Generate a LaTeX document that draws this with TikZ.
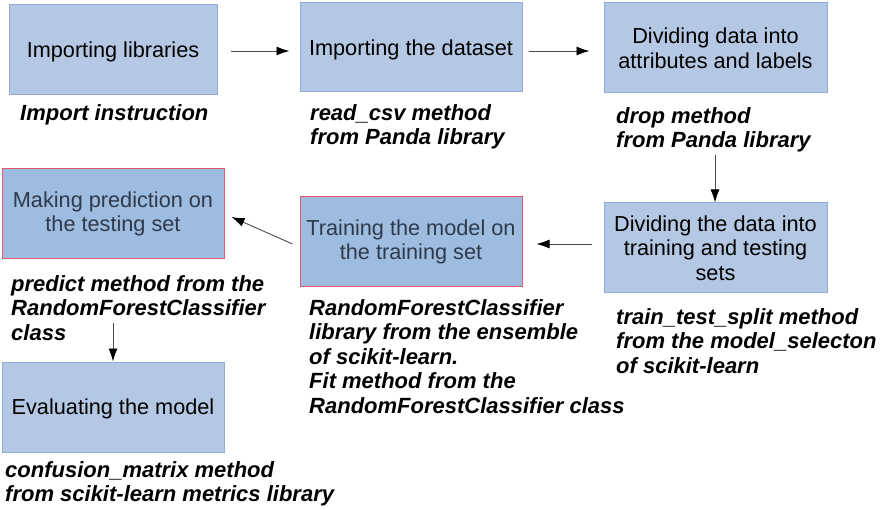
\documentclass[tikz,border=0pt]{standalone}
\usepackage{fontspec}
\setmainfont{Liberation Sans}
\usetikzlibrary{arrows.meta,calc}
\definecolor{boxfill}{HTML}{B4C8E4}
\definecolor{boxline}{HTML}{8FADD6}
\definecolor{hotfill}{HTML}{9EBCDF}
\definecolor{hotline}{HTML}{E05A6C}
\definecolor{hottext}{HTML}{2E3A4C}
\definecolor{arrowcol}{HTML}{4A4A4A}
\begin{document}
\begin{tikzpicture}[x=1pt,y=-1pt,
  boxtext/.style={inner sep=0pt,align=center,
    font=\fontsize{21.7}{24.5}\selectfont},
  onetext/.style={boxtext,yshift=-2pt},
  stepbox/.style={draw=boxline,fill=boxfill,line width=1pt,inner sep=0pt,
    minimum width=222pt,minimum height=90pt},
  hotbox/.style={stepbox,draw=hotline,fill=hotfill},
  hottxt/.style={boxtext,text=hottext},
  note/.style={anchor=north west,inner sep=0pt,align=left,
    font=\fontsize{22}{24.5}\selectfont\bfseries\itshape},
  flow/.style={draw=arrowcol,line width=0.9pt,-{Latex[length=13pt,width=9pt,color=black]}}]
\useasboundingbox (0,0) rectangle (880,510);
\fill[white] (0,0) rectangle (880,510);

\node[stepbox,minimum width=208pt,label={[onetext]center:Importing libraries}] (b1) at (113,50) {};
\node[stepbox,minimum height=89pt,label={[onetext]center:Importing the dataset}] (b2) at (411,47.5) {};
\node[stepbox,minimum width=223pt,label={[boxtext]center:{Dividing data into\\attributes and labels}}] (b3) at (715.5,48) {};
\node[stepbox,minimum width=223pt,label={[boxtext]center:{Dividing the data into\\training and testing\\sets}}] (b4) at (715.5,248) {};
\node[hotbox,label={[hottxt]center:{Training the model on\\the training set}}] (b5) at (411,242) {};
\node[hotbox,label={[hottxt]center:{Making prediction on\\the testing set}}] (b6) at (113,214) {};
\node[stepbox,label={[onetext]center:Evaluating the model}] (b7) at (113,407) {};

\node[note] (n1) at (20,104) {Import instruction};
\node[note] (n2) at (310,104) {read\_csv method\\from Panda library};
\node[note] (n3) at (616,107) {drop method\\from Panda library};
\node[note] (n4) at (616,308) {train\_test\_split method\\from the model\_selecton\\of scikit-learn};
\node[note] (n5) at (309,299) {RandomForestClassifier\\library from the ensemble\\of scikit-learn.\\Fit method from the\\RandomForestClassifier class};
\node[note] (n6) at (11,275) {predict method from the\\RandomForestClassifier\\class};
\node[note] (n7) at (5,461) {confusion\_matrix method\\from scikit-learn metrics library};

\draw[flow] ($(b1.east)+(13,1)$) -- ($(b2.west)+(-10,3.5)$);
\draw[flow] ($(b2.east)+(6,3.5)$) -- ($(b3.west)+(-14,3)$);
\draw[flow] ($(b3.south)+(-0.5,62)$) -- (b4.north -| {$(b3.south)+(-0.5,0)$});
\draw[flow] ($(b4.west)+(-12,-4)$) -- ($(b5.east)+(14,2)$);
\draw[flow] ($(b5.west)+(-7,2)$) -- ($(b6.east)+(7,3)$);
\draw[flow] ($(b6.south)+(0,63)$) -- (b7.north);
\end{tikzpicture}
\end{document}
